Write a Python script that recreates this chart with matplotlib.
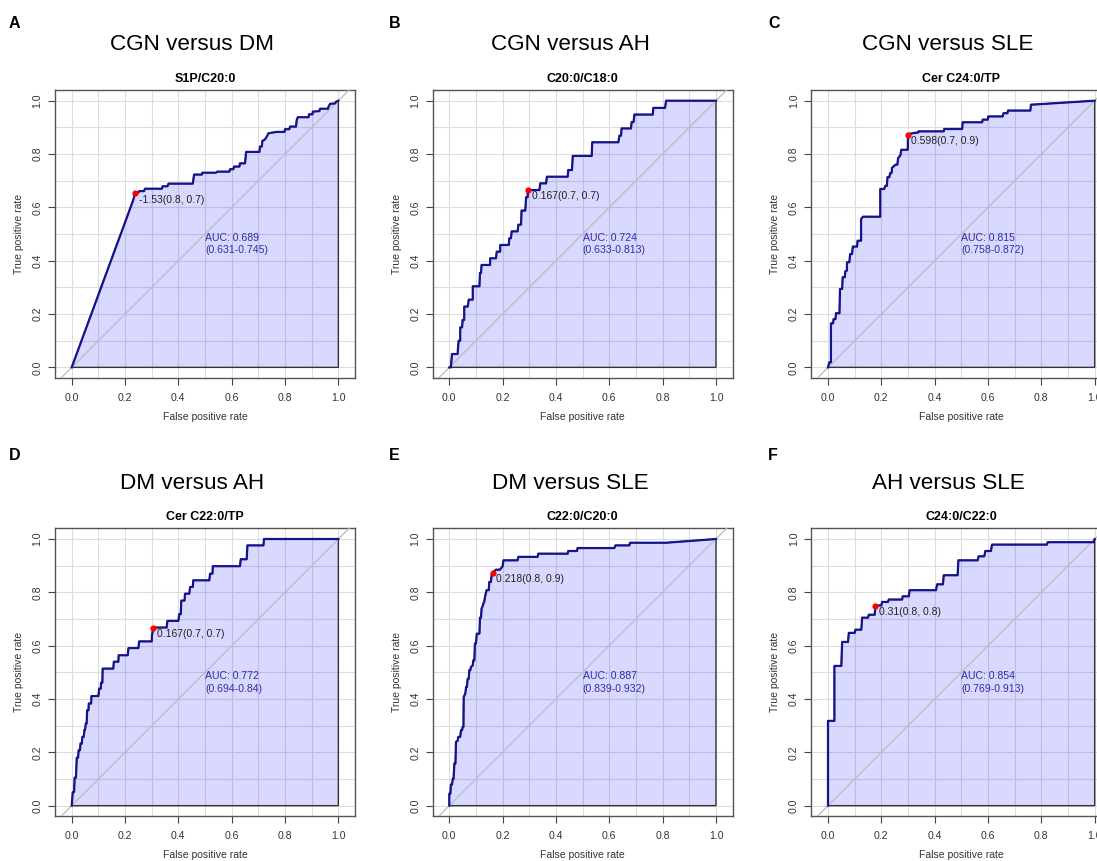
import matplotlib
matplotlib.use('Agg')
import matplotlib.pyplot as plt
import numpy as np

plt.rcParams['font.family'] = ['Liberation Sans', 'DejaVu Sans']

letters = ['A', 'B', 'C', 'D', 'E', 'F']
titles = ['CGN versus DM', 'CGN versus AH', 'CGN versus SLE',
          'DM versus AH', 'DM versus SLE', 'AH versus SLE']
markers = ['S1P/C20:0', 'C20:0/C18:0', 'Cer C24:0/TP',
           'Cer C22:0/TP', 'C22:0/C20:0', 'C24:0/C22:0']
thr_labels = ['-1.53(0.8, 0.7)', '0.167(0.7, 0.7)', '0.598(0.7, 0.9)',
              '0.167(0.7, 0.7)', '0.218(0.8, 0.9)', '0.31(0.8, 0.8)']
best_pts = [(0.2375, 0.6525), (0.296, 0.665), (0.3, 0.873),
            (0.305, 0.666), (0.1625, 0.874), (0.1775, 0.75)]
auc_labels = ['AUC: 0.689\n(0.631-0.745)', 'AUC: 0.724\n(0.633-0.813)',
              'AUC: 0.815\n(0.758-0.872)', 'AUC: 0.772\n(0.694-0.84)',
              'AUC: 0.887\n(0.839-0.932)', 'AUC: 0.854\n(0.769-0.913)']

# ROC curve vertices (false positive rate, true positive rate)
roc_a = [(0, 0), (0.231, 0.628), (0.238, 0.653), (0.25, 0.656), (0.254, 0.661),
         (0.271, 0.661), (0.275, 0.67), (0.338, 0.67), (0.341, 0.679), (0.359, 0.679),
         (0.363, 0.689), (0.454, 0.689), (0.459, 0.723), (0.488, 0.723), (0.49, 0.73),
         (0.541, 0.73), (0.546, 0.734), (0.591, 0.734), (0.594, 0.743), (0.606, 0.743),
         (0.609, 0.753), (0.629, 0.753), (0.631, 0.765), (0.65, 0.765), (0.654, 0.808),
         (0.704, 0.808), (0.706, 0.828), (0.713, 0.828), (0.715, 0.849), (0.725, 0.855),
         (0.731, 0.865), (0.738, 0.878), (0.769, 0.883), (0.798, 0.883), (0.8, 0.893),
         (0.816, 0.893), (0.819, 0.903), (0.841, 0.903), (0.844, 0.928), (0.848, 0.938),
         (0.888, 0.938), (0.89, 0.949), (0.903, 0.949), (0.904, 0.959), (0.929, 0.961),
         (0.931, 0.97), (0.961, 0.97), (0.964, 0.98), (0.969, 0.988), (0.988, 0.99),
         (0.991, 0.996), (1.0, 1.0)]
roc_b = [(0, 0), (0.006, 0), (0.01, 0.05), (0.031, 0.05), (0.035, 0.1), (0.041, 0.1),
         (0.041, 0.15), (0.048, 0.15), (0.05, 0.178), (0.056, 0.178), (0.056, 0.228),
         (0.069, 0.228), (0.073, 0.254), (0.088, 0.254), (0.088, 0.304), (0.113, 0.304),
         (0.115, 0.354), (0.119, 0.354), (0.121, 0.384), (0.153, 0.384), (0.153, 0.409),
         (0.175, 0.409), (0.178, 0.434), (0.191, 0.434), (0.191, 0.459), (0.223, 0.459),
         (0.225, 0.484), (0.231, 0.484), (0.234, 0.51), (0.256, 0.51), (0.259, 0.535),
         (0.269, 0.535), (0.271, 0.588), (0.285, 0.588), (0.288, 0.638), (0.294, 0.638),
         (0.294, 0.665), (0.338, 0.665), (0.341, 0.69), (0.363, 0.69), (0.366, 0.715),
         (0.444, 0.715), (0.446, 0.74), (0.46, 0.74), (0.463, 0.793), (0.534, 0.793),
         (0.536, 0.844), (0.634, 0.844), (0.638, 0.869), (0.644, 0.869), (0.646, 0.896),
         (0.681, 0.896), (0.684, 0.92), (0.691, 0.92), (0.694, 0.948), (0.763, 0.948),
         (0.765, 0.973), (0.809, 0.973), (0.813, 1.0), (1.0, 1.0)]
roc_c = [(0, 0), (0.005, 0.019), (0.011, 0.019), (0.011, 0.165), (0.019, 0.165),
         (0.021, 0.181), (0.028, 0.181), (0.03, 0.203), (0.043, 0.203), (0.045, 0.294),
         (0.053, 0.294), (0.055, 0.338), (0.063, 0.338), (0.065, 0.36), (0.071, 0.363),
         (0.071, 0.394), (0.08, 0.394), (0.083, 0.425), (0.09, 0.425), (0.093, 0.453),
         (0.109, 0.453), (0.111, 0.475), (0.124, 0.475), (0.124, 0.556), (0.131, 0.565),
         (0.196, 0.565), (0.196, 0.669), (0.211, 0.669), (0.215, 0.681), (0.221, 0.681),
         (0.223, 0.713), (0.23, 0.713), (0.233, 0.728), (0.238, 0.728), (0.24, 0.748),
         (0.253, 0.76), (0.26, 0.76), (0.263, 0.785), (0.271, 0.794), (0.275, 0.816),
         (0.299, 0.816), (0.3, 0.875), (0.338, 0.881), (0.34, 0.885), (0.434, 0.885),
         (0.436, 0.894), (0.503, 0.894), (0.505, 0.919), (0.578, 0.919), (0.58, 0.929),
         (0.599, 0.929), (0.601, 0.941), (0.655, 0.941), (0.658, 0.953), (0.673, 0.953),
         (0.675, 0.963), (0.759, 0.963), (0.761, 0.985), (1.0, 1.0)]
roc_d = [(0, 0), (0.004, 0.051), (0.009, 0.051), (0.011, 0.105), (0.016, 0.105),
         (0.019, 0.18), (0.024, 0.18), (0.026, 0.208), (0.031, 0.208), (0.033, 0.233),
         (0.038, 0.233), (0.04, 0.258), (0.045, 0.258), (0.048, 0.285), (0.05, 0.285),
         (0.053, 0.308), (0.056, 0.308), (0.058, 0.358), (0.063, 0.358), (0.064, 0.383),
         (0.073, 0.383), (0.074, 0.411), (0.1, 0.411), (0.103, 0.439), (0.109, 0.439),
         (0.11, 0.461), (0.115, 0.461), (0.116, 0.514), (0.156, 0.514), (0.158, 0.54),
         (0.175, 0.54), (0.176, 0.564), (0.21, 0.564), (0.213, 0.591), (0.25, 0.591),
         (0.253, 0.616), (0.3, 0.616), (0.301, 0.639), (0.303, 0.65), (0.305, 0.668),
         (0.356, 0.668), (0.359, 0.693), (0.4, 0.693), (0.403, 0.718), (0.409, 0.718),
         (0.411, 0.769), (0.423, 0.769), (0.425, 0.795), (0.441, 0.795), (0.444, 0.82),
         (0.454, 0.82), (0.456, 0.845), (0.516, 0.845), (0.519, 0.87), (0.528, 0.87),
         (0.529, 0.898), (0.631, 0.898), (0.634, 0.924), (0.656, 0.924), (0.659, 0.976),
         (0.719, 0.976), (0.721, 1.0), (1.0, 1.0)]
roc_e = [(0, 0), (0, 0.045), (0.004, 0.045), (0.006, 0.079), (0.01, 0.079), (0.013, 0.101),
         (0.016, 0.101), (0.019, 0.158), (0.023, 0.158), (0.025, 0.239), (0.031, 0.243),
         (0.034, 0.258), (0.041, 0.258), (0.044, 0.283), (0.048, 0.283), (0.05, 0.295),
         (0.053, 0.295), (0.054, 0.408), (0.06, 0.42), (0.063, 0.445), (0.066, 0.445),
         (0.069, 0.476), (0.073, 0.476), (0.075, 0.508), (0.079, 0.508), (0.081, 0.52),
         (0.088, 0.526), (0.09, 0.545), (0.094, 0.545), (0.096, 0.608), (0.1, 0.608),
         (0.103, 0.645), (0.113, 0.645), (0.115, 0.705), (0.119, 0.705), (0.121, 0.739),
         (0.125, 0.748), (0.128, 0.758), (0.131, 0.764), (0.134, 0.783), (0.138, 0.801),
         (0.14, 0.808), (0.148, 0.808), (0.15, 0.839), (0.156, 0.839), (0.159, 0.866),
         (0.163, 0.874), (0.175, 0.885), (0.19, 0.885), (0.2, 0.898), (0.203, 0.92),
         (0.256, 0.92), (0.259, 0.933), (0.331, 0.933), (0.334, 0.945), (0.444, 0.945),
         (0.446, 0.955), (0.479, 0.955), (0.481, 0.966), (0.619, 0.966), (0.623, 0.976),
         (0.675, 0.976), (0.678, 0.986), (0.813, 0.986), (1.0, 1.0)]
roc_f = [(0, 0), (0, 0.318), (0.024, 0.318), (0.024, 0.524), (0.05, 0.524), (0.053, 0.614),
         (0.075, 0.614), (0.078, 0.648), (0.1, 0.648), (0.103, 0.66), (0.125, 0.66),
         (0.128, 0.705), (0.15, 0.705), (0.153, 0.716), (0.175, 0.716), (0.178, 0.75),
         (0.2, 0.751), (0.203, 0.764), (0.225, 0.764), (0.228, 0.773), (0.278, 0.773),
         (0.28, 0.785), (0.303, 0.785), (0.306, 0.808), (0.405, 0.808), (0.409, 0.83),
         (0.431, 0.83), (0.434, 0.864), (0.486, 0.864), (0.489, 0.92), (0.561, 0.92),
         (0.565, 0.935), (0.586, 0.935), (0.59, 0.955), (0.611, 0.955), (0.615, 0.979),
         (0.821, 0.979), (0.824, 0.988), (0.996, 0.988), (1.0, 1.0)]
rocs = [roc_a, roc_b, roc_c, roc_d, roc_e, roc_f]

W, H = 1097, 861
fig = plt.figure(figsize=(W / 100, H / 100), dpi=100)

U = 266.67                      # pixels per data unit
col_x0 = [71.7, 449.3, 828.0]   # pixel x of fpr=0
row_y1 = [100.7, 539.0]         # pixel y of tpr=1
title_x = [192, 570, 948]
letter_x = [9, 389, 768]
letter_y = [23, 455]
title_y = [45, 483]

for i in range(6):
    r, c = divmod(i, 3)
    left = col_x0[c] - 0.0625 * U
    top = row_y1[r] - 0.04 * U
    ax = fig.add_axes([left / W, 1 - (top + 1.08 * U) / H, 1.125 * U / W, 1.08 * U / H])
    ax.set_xlim(-0.0625, 1.0625)
    ax.set_ylim(-0.04, 1.04)

    pts = np.array(rocs[i])
    fpr, tpr = pts[:, 0], pts[:, 1]

    ax.set_xticks(np.arange(0, 1.01, 0.2))
    ax.set_yticks(np.arange(0, 1.01, 0.2))
    ax.set_xticks(np.arange(0, 1.01, 0.1), minor=True)
    ax.set_yticks(np.arange(0, 1.01, 0.1), minor=True)
    ax.set_xticklabels(['%.1f' % v for v in np.arange(0, 1.01, 0.2)])
    ax.set_yticklabels(['%.1f' % v for v in np.arange(0, 1.01, 0.2)], rotation=90, va='center')
    ax.grid(True, which='both', color='#dddddd', lw=0.8)
    ax.set_axisbelow(True)
    ax.tick_params(which='minor', length=0)
    ax.tick_params(which='major', direction='out', length=5, width=0.8, color='#444444',
                   labelsize=7.6, labelcolor='#333333')
    ax.tick_params(axis='x', pad=5.5)
    ax.tick_params(axis='y', pad=4)
    for s in ax.spines.values():
        s.set_color('#555555')
        s.set_linewidth(1.0)

    ax.fill(np.r_[fpr, 1, 0], np.r_[tpr, 0, 0], facecolor=(0, 0, 1, 0.15),
            edgecolor='#333333', lw=1.0, zorder=2)
    ax.axline((0, 0), (1, 1), color='#bbbbbb', lw=0.9, zorder=3)
    ax.plot(fpr, tpr, color='#14148c', lw=1.6, zorder=4)
    bx, by = best_pts[i]
    ax.plot(bx, by, 'o', color='red', ms=4.5, mec='none', zorder=5)
    ax.annotate(thr_labels[i], (bx, by), xytext=(2.5, -4.5), textcoords='offset points',
                ha='left', va='center', fontsize=7.5, color='#222222', zorder=6)
    ax.text(0.5, 0.462, auc_labels[i], ha='left', va='center', fontsize=7.6,
            color='#2e2ea6', linespacing=1.3, zorder=6)

    ax.set_title(markers[i], fontsize=9, fontweight='bold', pad=6)
    ax.set_xlabel('False positive rate', fontsize=7.5, color='#333333', va='center')
    ax.set_ylabel('True positive rate', fontsize=7.5, color='#333333', va='center')
    ax.xaxis.set_label_coords(0.5, -0.135)
    ax.yaxis.set_label_coords(-0.12, 0.5)

    fig.text(title_x[c] / W, 1 - title_y[r] / H, titles[i], ha='center', va='center',
             fontsize=16.2)
    fig.text(letter_x[c] / W, 1 - letter_y[r] / H, letters[i], ha='left', va='center',
             fontsize=11.5, fontweight='bold')

fig.savefig('out.png', dpi=100)
